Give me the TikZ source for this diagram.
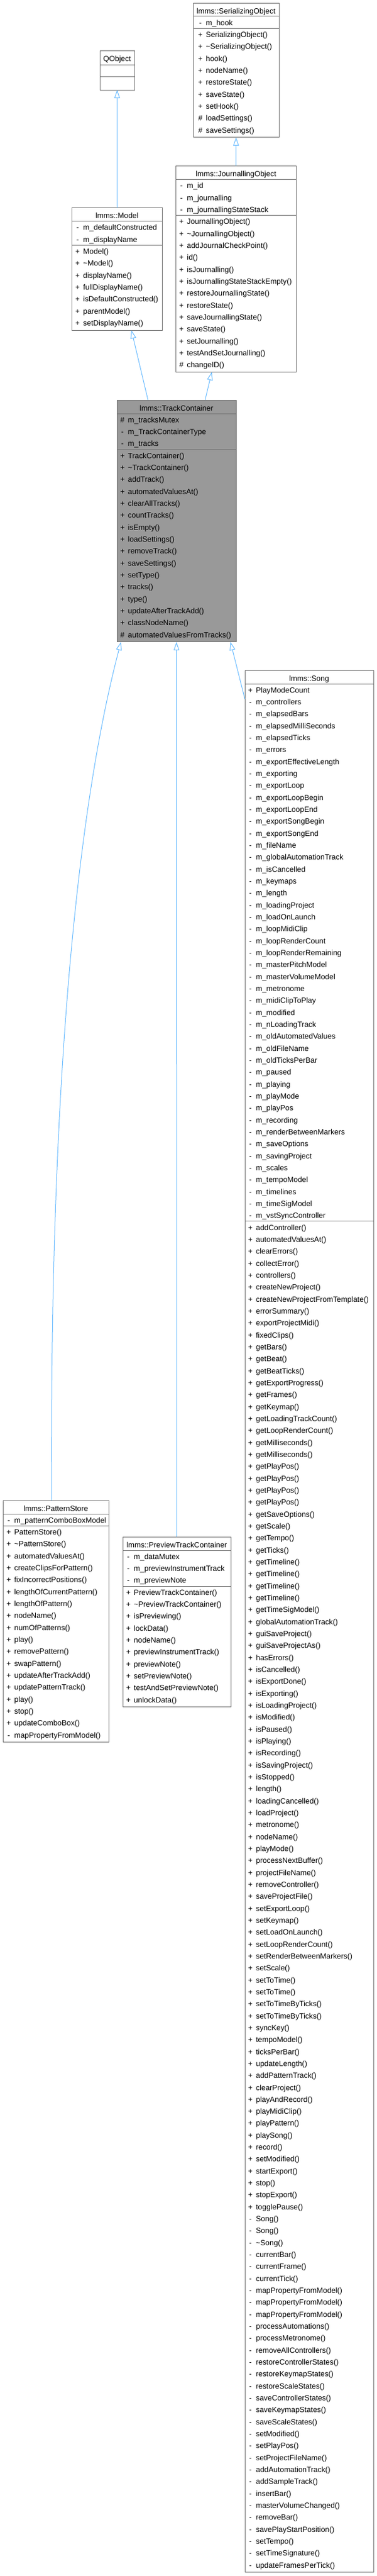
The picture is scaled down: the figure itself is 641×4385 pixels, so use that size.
\documentclass[tikz,border=0pt]{standalone}
\usepackage{fontspec}
\setmainfont{Liberation Sans}
\usetikzlibrary{arrows.meta}
\definecolor{edgeblue}{HTML}{63B8FF}
\definecolor{boxgray}{HTML}{6E6E6E}
\definecolor{rootgray}{HTML}{999999}

\begin{document}
\begin{tikzpicture}[
  x = 1pt,
  y = -1pt,
  classbox/.style = {
    draw = boxgray,
    fill = white,
    line width = 1pt,
    anchor = north west,
    inner sep = 0pt,
    outer sep = 0pt,
  },
  rootbox/.style = {
    classbox,
    fill = rootgray
  },
  divider/.style = {
    draw = boxgray,
    line width = 1pt
  },
  classname/.style = {
    anchor = base,
    inner sep = 0pt,
    font = \fontsize{12.85}{15}\selectfont
  },
  member/.style = {
    anchor = base west,
    inner sep = 0pt,
    font = \fontsize{12.85}{15}\selectfont
  },
  inherit/.style = {
    draw = edgeblue,
    line width = 1pt,
    -{Triangle[open, length = 14pt, width = 9.5pt]}
  }
]
  \useasboundingbox (0, 0) rectangle (641, 4385);

  % lmms::SerializingObject
  \node[classbox, minimum width = 146pt, minimum height = 228.8pt] (serial) at (329, 5) {};
  \node[classname] (serial-name) at (402, 23.2) {lmms::SerializingObject};
  \draw[divider] (329, 27.9) -- (475, 27.9);
  \draw[divider] (329, 48.2) -- (475, 48.2);
  \foreach \sgn/\mbr [count = \i from 0] in {-/m\_hook}
    \node[member] (serial-a\i) at (341, 27.9 + 15.3 + \i * 20.33) {\makebox[0pt]{\sgn}\hspace*{9.5pt}\mbr};
  \foreach \sgn/\mbr [count = \i from 0] in {+/SerializingObject(), +/\textasciitilde SerializingObject(),
      +/hook(), +/nodeName(), +/restoreState(), +/saveState(), +/setHook(), \#/loadSettings(), \#/saveSettings()}
    \node[member] (serial-m\i) at (341, 48.2 + 15.3 + \i * 20.33) {\makebox[0pt]{\sgn}\hspace*{9.5pt}\mbr};

  % QObject
  \node[classbox, minimum width = 59pt, minimum height = 66.5pt] (qobject) at (170, 86.5) {};
  \node[classname] (qobject-name) at (199.5, 104.7) {QObject};
  \draw[divider] (170, 110) -- (229, 110);
  \draw[divider] (170, 130) -- (229, 130);

  % lmms::JournallingObject
  \node[classbox, minimum width = 205.2pt, minimum height = 350.9pt] (journal) at (299.3, 282.4) {};
  \node[classname] (journal-name) at (401.9, 300.6) {lmms::JournallingObject};
  \draw[divider] (299.3, 305.4) -- (504.5, 305.4);
  \draw[divider] (299.3, 366.4) -- (504.5, 366.4);
  \foreach \sgn/\mbr [count = \i from 0] in {-/m\_id, -/m\_journalling, -/m\_journallingStateStack}
    \node[member] (journal-a\i) at (308.7, 305.4 + 15.3 + \i * 20.33) {\makebox[0pt]{\sgn}\hspace*{9.5pt}\mbr};
  \foreach \sgn/\mbr [count = \i from 0] in {+/JournallingObject(), +/\textasciitilde JournallingObject(),
      +/addJournalCheckPoint(), +/id(), +/isJournalling(), +/isJournallingStateStackEmpty(),
      +/restoreJournallingState(), +/restoreState(), +/saveJournallingState(), +/saveState(),
      +/setJournalling(), +/testAndSetJournalling(), \#/changeID()}
    \node[member] (journal-m\i) at (308.7, 366.4 + 15.3 + \i * 20.33) {\makebox[0pt]{\sgn}\hspace*{9.5pt}\mbr};

  % lmms::Model
  \node[classbox, minimum width = 153.4pt, minimum height = 208.6pt] (model) at (122.6, 353.6) {};
  \node[classname] (model-name) at (199.3, 371.8) {lmms::Model};
  \draw[divider] (122.6, 376.6) -- (276, 376.6);
  \draw[divider] (122.6, 417.3) -- (276, 417.3);
  \foreach \sgn/\mbr [count = \i from 0] in {-/m\_defaultConstructed, -/m\_displayName}
    \node[member] (model-a\i) at (132, 376.6 + 15.3 + \i * 20.33) {\makebox[0pt]{\sgn}\hspace*{9.5pt}\mbr};
  \foreach \sgn/\mbr [count = \i from 0] in {+/Model(), +/\textasciitilde Model(), +/displayName(),
      +/fullDisplayName(), +/isDefaultConstructed(), +/parentModel(), +/setDisplayName()}
    \node[member] (model-m\i) at (132, 417.3 + 15.3 + \i * 20.33) {\makebox[0pt]{\sgn}\hspace*{9.5pt}\mbr};

  % lmms::TrackContainer
  \node[rootbox, minimum width = 203pt, minimum height = 411.9pt] (tc) at (199, 681) {};
  \node[classname] (tc-name) at (300.5, 699.2) {lmms::TrackContainer};
  \draw[divider] (199, 704) -- (402, 704);
  \draw[divider] (199, 765) -- (402, 765);
  \foreach \sgn/\mbr [count = \i from 0] in {\#/m\_tracksMutex, -/m\_TrackContainerType, -/m\_tracks}
    \node[member] (tc-a\i) at (208.3, 704 + 15.3 + \i * 20.33) {\makebox[0pt]{\sgn}\hspace*{9.5pt}\mbr};
  \foreach \sgn/\mbr [count = \i from 0] in {+/TrackContainer(), +/\textasciitilde TrackContainer(),
      +/addTrack(), +/automatedValuesAt(), +/clearAllTracks(), +/countTracks(), +/isEmpty(),
      +/loadSettings(), +/removeTrack(), +/saveSettings(), +/setType(), +/tracks(), +/type(),
      +/updateAfterTrackAdd(), +/classNodeName(), \#/automatedValuesFromTracks()}
    \node[member] (tc-m\i) at (208.3, 765 + 15.3 + \i * 20.33) {\makebox[0pt]{\sgn}\hspace*{9.5pt}\mbr};

  % lmms::Song
  \node[classbox, minimum width = 219pt, minimum height = 3237.8pt] (song) at (417, 1141) {};
  \node[classname] (song-name) at (526.5, 1159.2) {lmms::Song};
  \draw[divider] (417, 1164) -- (636, 1164);
  \draw[divider] (417, 2078.9) -- (636, 2078.9);
  \foreach \sgn/\mbr [count = \i from 0] in {+/PlayModeCount, -/m\_controllers, -/m\_elapsedBars,
      -/m\_elapsedMilliSeconds, -/m\_elapsedTicks, -/m\_errors, -/m\_exportEffectiveLength,
      -/m\_exporting, -/m\_exportLoop, -/m\_exportLoopBegin, -/m\_exportLoopEnd,
      -/m\_exportSongBegin, -/m\_exportSongEnd, -/m\_fileName, -/m\_globalAutomationTrack,
      -/m\_isCancelled, -/m\_keymaps, -/m\_length, -/m\_loadingProject, -/m\_loadOnLaunch,
      -/m\_loopMidiClip, -/m\_loopRenderCount, -/m\_loopRenderRemaining, -/m\_masterPitchModel,
      -/m\_masterVolumeModel, -/m\_metronome, -/m\_midiClipToPlay, -/m\_modified,
      -/m\_nLoadingTrack, -/m\_oldAutomatedValues, -/m\_oldFileName, -/m\_oldTicksPerBar,
      -/m\_paused, -/m\_playing, -/m\_playMode, -/m\_playPos, -/m\_recording,
      -/m\_renderBetweenMarkers, -/m\_saveOptions, -/m\_savingProject, -/m\_scales,
      -/m\_tempoModel, -/m\_timelines, -/m\_timeSigModel, -/m\_vstSyncController}
    \node[member] (song-a\i) at (426.2, 1164 + 15.3 + \i * 20.33) {\makebox[0pt]{\sgn}\hspace*{9.5pt}\mbr};
  \foreach \sgn/\mbr [count = \i from 0] in {+/addController(), +/automatedValuesAt(), +/clearErrors(),
      +/collectError(), +/controllers(), +/createNewProject(), +/createNewProjectFromTemplate(),
      +/errorSummary(), +/exportProjectMidi(), +/fixedClips(), +/getBars(), +/getBeat(),
      +/getBeatTicks(), +/getExportProgress(), +/getFrames(), +/getKeymap(),
      +/getLoadingTrackCount(), +/getLoopRenderCount(), +/getMilliseconds(), +/getMilliseconds(),
      +/getPlayPos(), +/getPlayPos(), +/getPlayPos(), +/getPlayPos(), +/getSaveOptions(),
      +/getScale(), +/getTempo(), +/getTicks(), +/getTimeline(), +/getTimeline(), +/getTimeline(),
      +/getTimeline(), +/getTimeSigModel(), +/globalAutomationTrack(), +/guiSaveProject(),
      +/guiSaveProjectAs(), +/hasErrors(), +/isCancelled(), +/isExportDone(), +/isExporting(),
      +/isLoadingProject(), +/isModified(), +/isPaused(), +/isPlaying(), +/isRecording(),
      +/isSavingProject(), +/isStopped(), +/length(), +/loadingCancelled(), +/loadProject(),
      +/metronome(), +/nodeName(), +/playMode(), +/processNextBuffer(), +/projectFileName(),
      +/removeController(), +/saveProjectFile(), +/setExportLoop(), +/setKeymap(),
      +/setLoadOnLaunch(), +/setLoopRenderCount(), +/setRenderBetweenMarkers(), +/setScale(),
      +/setToTime(), +/setToTime(), +/setToTimeByTicks(), +/setToTimeByTicks(), +/syncKey(),
      +/tempoModel(), +/ticksPerBar(), +/updateLength(), +/addPatternTrack(), +/clearProject(),
      +/playAndRecord(), +/playMidiClip(), +/playPattern(), +/playSong(), +/record(),
      +/setModified(), +/startExport(), +/stop(), +/stopExport(), +/togglePause(),
      -/Song(), -/Song(), -/\textasciitilde Song(), -/currentBar(), -/currentFrame(),
      -/currentTick(), -/mapPropertyFromModel(), -/mapPropertyFromModel(),
      -/mapPropertyFromModel(), -/processAutomations(), -/processMetronome(),
      -/removeAllControllers(), -/restoreControllerStates(), -/restoreKeymapStates(),
      -/restoreScaleStates(), -/saveControllerStates(), -/saveKeymapStates(),
      -/saveScaleStates(), -/setModified(), -/setPlayPos(), -/setProjectFileName(),
      -/addAutomationTrack(), -/addSampleTrack(), -/insertBar(), -/masterVolumeChanged(),
      -/removeBar(), -/savePlayStartPosition(), -/setTempo(), -/setTimeSignature(),
      -/updateFramesPerTick()}
    \node[member] (song-m\i) at (426.2, 2078.9 + 15.3 + \i * 20.33) {\makebox[0pt]{\sgn}\hspace*{9.5pt}\mbr};

  % lmms::PatternStore
  \node[classbox, minimum width = 180pt, minimum height = 411.8pt] (ps) at (5, 2554) {};
  \node[classname] (ps-name) at (95, 2572.2) {lmms::PatternStore};
  \draw[divider] (5, 2577) -- (185, 2577);
  \draw[divider] (5, 2597.3) -- (185, 2597.3);
  \foreach \sgn/\mbr [count = \i from 0] in {-/m\_patternComboBoxModel}
    \node[member] (ps-a\i) at (14.7, 2577 + 15.3 + \i * 20.33) {\makebox[0pt]{\sgn}\hspace*{9.5pt}\mbr};
  \foreach \sgn/\mbr [count = \i from 0] in {+/PatternStore(), +/\textasciitilde PatternStore(),
      +/automatedValuesAt(), +/createClipsForPattern(), +/fixIncorrectPositions(),
      +/lengthOfCurrentPattern(), +/lengthOfPattern(), +/nodeName(), +/numOfPatterns(), +/play(),
      +/removePattern(), +/swapPattern(), +/updateAfterTrackAdd(), +/updatePatternTrack(),
      +/play(), +/stop(), +/updateComboBox(), -/mapPropertyFromModel()}
    \node[member] (ps-m\i) at (14.7, 2597.3 + 15.3 + \i * 20.33) {\makebox[0pt]{\sgn}\hspace*{9.5pt}\mbr};

  % lmms::PreviewTrackContainer
  \node[classbox, minimum width = 184pt, minimum height = 289.9pt] (ptc) at (209, 2616) {};
  \node[classname] (ptc-name) at (301, 2634.2) {lmms::PreviewTrackContainer};
  \draw[divider] (209, 2639) -- (393, 2639);
  \draw[divider] (209, 2700) -- (393, 2700);
  \foreach \sgn/\mbr [count = \i from 0] in {-/m\_dataMutex, -/m\_previewInstrumentTrack, -/m\_previewNote}
    \node[member] (ptc-a\i) at (218.3, 2639 + 15.3 + \i * 20.33) {\makebox[0pt]{\sgn}\hspace*{9.5pt}\mbr};
  \foreach \sgn/\mbr [count = \i from 0] in {+/PreviewTrackContainer(), +/\textasciitilde PreviewTrackContainer(),
      +/isPreviewing(), +/lockData(), +/nodeName(), +/previewInstrumentTrack(), +/previewNote(),
      +/setPreviewNote(), +/testAndSetPreviewNote(), +/unlockData()}
    \node[member] (ptc-m\i) at (218.3, 2700 + 15.3 + \i * 20.33) {\makebox[0pt]{\sgn}\hspace*{9.5pt}\mbr};

  % inheritance
  \draw[inherit] (model) -- (qobject);
  \draw[inherit] (journal) -- (serial);
  \draw[inherit] (tc) -- (model);
  \draw[inherit] (tc) -- (journal);
  \draw[inherit] ([xshift = -7pt]ps.north) .. controls (84, 1900) and (125, 1400) .. ([xshift = -94.5pt]tc.south);
  \draw[inherit] (ptc) -- (tc);
  \draw[inherit] ([yshift = -49pt]song.north west) -- ([xshift = 92pt]tc.south);
\end{tikzpicture}
\end{document}
